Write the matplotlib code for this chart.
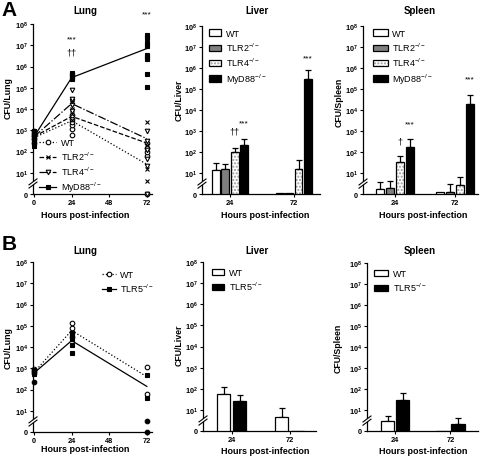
import numpy as np
import matplotlib.pyplot as plt
from matplotlib.patches import Patch
from matplotlib.lines import Line2D

plt.rcParams['font.family'] = ['Liberation Sans', 'DejaVu Sans']
plt.rcParams['mathtext.fontset'] = 'custom'
plt.rcParams['mathtext.rm'] = 'Liberation Sans'
plt.rcParams['mathtext.it'] = 'Liberation Sans:italic'
plt.rcParams['mathtext.bf'] = 'Liberation Sans:bold'

W, H = 480, 460

# ---- data ----
hours = [0, 24, 72]
bar_times = ['24', '72']

# panel A, lung: single mice (per time point) and group means
a_wt_pts = [[250, 400, 550, 700, 900], [600, 1200, 1800, 2500, 3500, 5000], [0, 60, 100, 150, 250]]
a_tlr2_pts = [[300, 500, 700, 850], [3000, 6000, 10000, 20000, 30000], [6, 15, 200, 2500]]
a_tlr4_pts = [[350, 450, 600, 800], [8000, 15000, 25000, 30000, 80000], [0, 20, 45, 120, 300, 900]]
a_myd88_pts = [[180, 250, 300, 400, 500, 650, 900], [250000, 300000, 350000, 400000, 450000, 500000],
               [110000, 430000, 2300000, 2700000, 3500000, 9000000, 13000000, 22000000, 30000000]]
a_wt_mean = [450, 2800, 25]
a_tlr2_mean = [500, 4500, 250]
a_tlr4_mean = [500, 18000, 400]
a_myd88_mean = [500, 300000, 7000000]

# panel A, liver and spleen: bars (WT, TLR2, TLR4, MyD88) x (24 h, 72 h)
a_groups = ['WT', 'TLR2', 'TLR4', 'MyD88']
a_liver_mean = [[14, 0.5], [15, 0.5], [96, 16], [210, 300000]]
a_liver_err = [[16, 0], [12, 0], [54, 27], [190, 480000]]
a_spleen_mean = [[2.5, 0.8], [3.0, 0.8], [34, 4.2], [165, 19000]]
a_spleen_err = [[3.3, 0], [3.2, 4.2], [33, 3.9], [235, 31000]]

# panel B, lung
b_wt_pts = [[600, 750, 900], [30000, 50000, 80000, 140000], [60, 1200]]
b_tlr5_pts = [[550, 700, 800], [5500, 12000, 25000, 35000, 45000], [40, 500]]
b_other_pts = [[230], [], [0, 5]]
b_wt_mean = [650, 60000, 400]
b_tlr5_mean = [600, 20000, 140]

# panel B, liver and spleen: bars (WT, TLR5)
b_groups = ['WT', 'TLR5']
b_liver_mean = [[59, 6.8], [26, 0]]
b_liver_err = [[66, 5.7], [27, 0]]
b_spleen_mean = [[4.7, 0], [29, 3.1]]
b_spleen_err = [[2.6, 0], [39, 3.0]]

ko = r'$\mathregular{^{-/-}}$'


def fwd(v):
    v = np.asarray(v, dtype=float)
    return np.where(v < 10, v / 10.0, np.log10(np.maximum(v, 10)))


def inv(p):
    p = np.asarray(p, dtype=float)
    return np.where(p < 1, p * 10.0, 10.0 ** np.minimum(p, 300))


def make_ax(l, r, t, b):
    ax = plt.axes([l / W, 1 - b / H, (r - l) / W, (b - t) / H])
    ax.set_yscale('function', functions=(fwd, inv))
    ax.set_ylim(0, 1e8)
    ax.set_yticks([0] + [10 ** k for k in range(1, 9)])
    ax.set_yticklabels(['0'] + [r'$\mathbf{10^{%d}}$' % k for k in range(1, 9)])
    for s in ['top', 'right']:
        ax.spines[s].set_visible(False)
    for s in ['left', 'bottom']:
        ax.spines[s].set_linewidth(0.9)
    ax.tick_params(length=2.5, width=0.8, labelsize=5.3, pad=1.2)
    for lab in ax.get_xticklabels() + ax.get_yticklabels():
        lab.set_fontweight('bold')
    # axis break between 0 and 10^1
    wpx, hpx = r - l, b - t
    dx, dy, g = 4.0 / wpx, 3.0 / hpx, 1.6 / hpx
    y0 = 0.062
    ax.fill([-dx, dx, dx, -dx], [y0 - dy - g, y0 + dy - g, y0 + dy + g, y0 - dy + g],
            color='white', transform=ax.transAxes, clip_on=False, zorder=5, lw=0)
    for off in (-g, g):
        ax.plot([-dx, dx], [y0 - dy + off, y0 + dy + off], color='black', lw=0.8,
                transform=ax.transAxes, clip_on=False, zorder=6)
    return ax


def ftext(x, y, s, **kw):
    plt.figtext(x / W, 1 - y / H, s, ha='center', va='center', **kw)


def lung_panel(ax, series):
    ax.set_xlim(-0.7, 75.3)
    ax.set_xticks([0, 24, 48, 72])
    for lab in ax.get_xticklabels():
        lab.set_fontweight('bold')
    handles = []
    for pts, mean, mk, mfc, ls, label in series:
        ax.plot(hours, mean, color='black', ls=ls, lw=0.9, zorder=3)
        for h, vals in zip(hours, pts):
            if vals:
                ax.plot([h] * len(vals), vals, ls='none', marker=mk, ms=3.3, mfc=mfc,
                        mec='black', mew=0.8, clip_on=False, zorder=4)
        if label:
            handles.append(Line2D([], [], color='black', ls=ls, lw=0.9, marker=mk, ms=3.3,
                                  mfc=mfc, mec='black', mew=0.8, label=label))
    return handles


def bar_panel(ax, means, errs, styles, offs, width, xlim):
    ax.set_xlim(*xlim)
    ax.set_xticks([0, 1])
    ax.set_xticklabels(bar_times)
    for lab in ax.get_xticklabels():
        lab.set_fontweight('bold')
    x = np.arange(len(bar_times))
    handles = []
    for m, e, (fc, hatch, label), o in zip(means, errs, styles, offs):
        m = np.array(m, dtype=float)
        e = np.array(e, dtype=float)
        keep = e > 0
        ax.errorbar(x[keep] + o, m[keep], yerr=[np.zeros(keep.sum()), e[keep]], fmt='none',
                    ecolor='black', elinewidth=0.9, capsize=2, capthick=0.9, zorder=2)
        if hatch:
            ax.bar(x + o, m, width, color='white', edgecolor='#9a9a9a', hatch=hatch, lw=0, zorder=3)
            ax.bar(x + o, m, width, fill=False, edgecolor='black', lw=0.9, zorder=4)
            h = (Patch(facecolor='white', edgecolor='#9a9a9a', hatch=hatch, lw=0),
                 Patch(fill=False, edgecolor='black', lw=0.9))
        else:
            ax.bar(x + o, m, width, color=fc, edgecolor='black', lw=0.9, zorder=3)
            h = Patch(facecolor=fc, edgecolor='black', lw=0.9)
        handles.append((h, label))
    return handles


def bar_legend(ax, hs, x0, y0, hl):
    ax.legend([h for h, _ in hs], [l for _, l in hs], loc='upper left', bbox_to_anchor=(x0, y0),
              frameon=False, fontsize=6.5, handlelength=hl, handleheight=0.7, handletextpad=0.5,
              labelspacing=0.33, borderpad=0, borderaxespad=0)


fig = plt.figure(figsize=(W / 100, H / 100), dpi=100)

a_styles = [('white', None, 'WT'), ('#7f7f7f', None, 'TLR2' + ko),
            ('white', '.....', 'TLR4' + ko), ('black', None, 'MyD88' + ko)]
b_styles = [('white', None, 'WT'), ('black', None, 'TLR5' + ko)]

# ---- A lung ----
ax = make_ax(33, 152, 25, 195)
hs = lung_panel(ax, [
    (a_wt_pts, a_wt_mean, 'o', 'white', ':', 'WT'),
    (a_tlr2_pts, a_tlr2_mean, 'x', 'black', '--', 'TLR2' + ko),
    (a_tlr4_pts, a_tlr4_mean, 'v', 'white', '-.', 'TLR4' + ko),
    (a_myd88_pts, a_myd88_mean, 's', 'black', '-', 'MyD88' + ko),
])
ax.legend(handles=hs, loc='lower left', bbox_to_anchor=(0.05, 0.0), frameon=False, fontsize=6.5,
          handlelength=1.9, handletextpad=0.5, labelspacing=0.27, borderpad=0, borderaxespad=0)
ax.text(24, 2e7, '***', ha='center', va='center', fontsize=6)
ax.text(24, 4.8e6, '††', ha='center', va='center', fontsize=6.5)
ax.text(72, 3e8, '***', ha='center', va='center', fontsize=6, clip_on=False)

# ---- A liver ----
ax = make_ax(202, 320, 27, 195)
step = 0.146
hs = bar_panel(ax, a_liver_mean, a_liver_err, a_styles, [-1.5 * step, -0.5 * step, 0.5 * step, 1.5 * step],
               0.125, (-0.44, 1.41))
bar_legend(ax, hs, 0.06, 0.985, 1.35)
ax.text(0.5 * step, 1000, '††', ha='center', va='center', fontsize=6.5)
ax.text(1.5 * step, 2400, '***', ha='center', va='center', fontsize=6)
ax.text(1 + 1.5 * step, 3e6, '***', ha='center', va='center', fontsize=6)

# ---- A spleen ----
ax = make_ax(363, 478, 27, 195)
step = 0.165
hs = bar_panel(ax, a_spleen_mean, a_spleen_err, a_styles, [-1.5 * step, -0.5 * step, 0.5 * step, 1.5 * step],
               0.133, (-0.53, 1.38))
bar_legend(ax, hs, 0.09, 0.985, 1.6)
ax.text(0.5 * step, 330, '†', ha='center', va='center', fontsize=6.5)
ax.text(1.5 * step, 2200, '***', ha='center', va='center', fontsize=6)
ax.text(1 + 1.5 * step, 3e5, '***', ha='center', va='center', fontsize=6)

# ---- B lung ----
ax = make_ax(33, 152, 263, 433)
hs = lung_panel(ax, [
    (b_wt_pts, b_wt_mean, 'o', 'white', ':', 'WT'),
    (b_tlr5_pts, b_tlr5_mean, 's', 'black', '-', 'TLR5' + ko),
    (b_other_pts, [np.nan] * 3, 'o', 'black', '-', None),
])
ax.legend(handles=hs, loc='upper left', bbox_to_anchor=(0.58, 0.95), frameon=False, fontsize=6.5,
          handlelength=1.5, handletextpad=0.5, labelspacing=0.22, borderpad=0, borderaxespad=0)

# ---- B liver ----
ax = make_ax(203, 316, 263, 432)
hs = bar_panel(ax, b_liver_mean, b_liver_err, b_styles, [-0.138, 0.138], 0.224, (-0.5, 1.45))
bar_legend(ax, hs, 0.08, 0.965, 1.35)

# ---- B spleen ----
ax = make_ax(367, 478, 264, 432)
hs = bar_panel(ax, b_spleen_mean, b_spleen_err, b_styles, [-0.136, 0.136], 0.245, (-0.51, 1.5))
bar_legend(ax, hs, 0.06, 0.965, 1.6)

# ---- titles, axis labels, panel letters ----
for (x, y) in [(85, 11), (85, 251)]:
    ftext(x, y, 'Lung', fontsize=7, fontweight='bold')
for (x, y) in [(257, 11), (257, 251)]:
    ftext(x, y, 'Liver', fontsize=7, fontweight='bold')
for (x, y) in [(420, 11), (420, 251)]:
    ftext(x, y, 'Spleen', fontsize=7, fontweight='bold')
for (x, y) in [(85, 216), (265, 216), (423, 216), (85, 450), (265, 452), (423, 452)]:
    ftext(x, y, 'Hours post-infection', fontsize=6.5, fontweight='bold')
for (x, y, s) in [(8, 98, 'CFU/Lung'), (179, 100, 'CFU/Liver'), (339, 102, 'CFU/Spleen'),
                  (8, 348, 'CFU/Lung'), (179, 345, 'CFU/Liver'), (338, 348, 'CFU/Spleen')]:
    ftext(x, y, s, fontsize=6.3, fontweight='bold', rotation=90)
ftext(9, 10, 'A', fontsize=15, fontweight='bold')
ftext(9, 245, 'B', fontsize=15, fontweight='bold')

plt.savefig('out.png', dpi=100)
